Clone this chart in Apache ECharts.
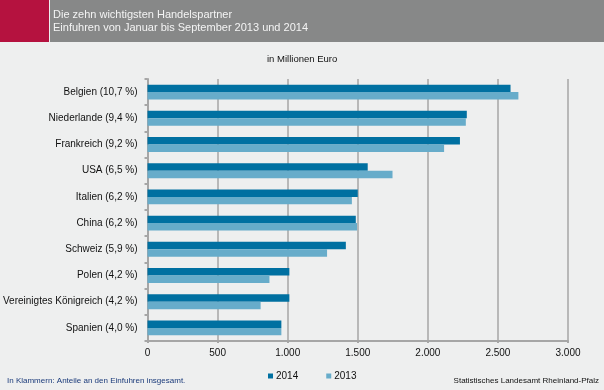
<!DOCTYPE html>
<html><head><meta charset="utf-8">
<script src="https://cdn.jsdelivr.net/npm/echarts@6/dist/echarts.min.js"></script>
<style>html,body{margin:0;padding:0;background:#EEEFEF}#c{width:604px;height:390px}</style>
</head><body><div id="c"></div>
<script>
const categories = ["Belgien (10,7 %)","Niederlande (9,4 %)","Frankreich (9,2 %)","USA (6,5 %)","Italien (6,2 %)","China (6,2 %)","Schweiz (5,9 %)","Polen (4,2 %)","Vereinigtes Königreich (4,2 %)","Spanien (4,0 %)"];
const values2014 = [2590, 2278, 2229, 1571, 1500, 1486, 1415, 1012, 1012, 955];
const values2013 = [2646, 2271, 2116, 1748, 1458, 1495, 1281, 870, 807, 955];
const seriesNames = ["2014", "2013"];
const titleLines = ["Die zehn wichtigsten Handelspartner", "Einfuhren von Januar bis September 2013 und 2014"];
const unitLabel = "in Millionen Euro";
const noteLeft = "In Klammern: Anteile an den Einfuhren insgesamt.";
const noteRight = "Statistisches Landesamt Rheinland-Pfalz";

const chart = echarts.init(document.getElementById('c'));
const font = "'Liberation Sans', Arial, sans-serif";
chart.setOption({
  backgroundColor: '#EEEFEF',
  animation: false,
  textStyle: {fontFamily: font},
  graphic: [
    {type:'rect', shape:{x:0,y:0,width:49,height:42}, style:{fill:'#B5123F'}},
    {type:'rect', shape:{x:50,y:0,width:554,height:42}, style:{fill:'#878888'}},
    {type:'text', left:53, top:9, style:{text:titleLines[0], fill:'#F4F4F4', font:'11px '+font}},
    {type:'text', left:53, top:22, style:{text:titleLines[1], fill:'#F4F4F4', font:'11px '+font}},
    {type:'text', left:267, top:54, style:{text:unitLabel, fill:'#111', font:'9.5px '+font}},
    {type:'text', left:7, top:377, style:{text:noteLeft, fill:'#1a3a7a', font:'8px '+font}},
    {type:'text', right:5, top:377, style:{text:noteRight, fill:'#111', font:'8px '+font}}
  ],
  legend: {
    data: seriesNames, left: 263, top: 366, itemWidth: 5, itemHeight: 5, itemGap: 28, icon: 'rect',
    textStyle: {fontSize: 10, color: '#111', fontFamily: font, padding:[0,0,0,-2]}
  },
  grid: {left: 144, right: 36, top: 79, bottom: 49, containLabel: false},
  xAxis: {
    type: 'value', min: 0, max: 3000, interval: 500,
    axisLine: {show: true, lineStyle: {color: '#A6A6A6', width: 2}},
    axisTick: {show: true, length: 2, lineStyle: {color: '#A6A6A6', width: 2}},
    splitLine: {show: true, lineStyle: {color: '#A6A6A6', width: 1.5}},
    axisLabel: {color: '#111', fontSize: 10, margin: 7, fontFamily: font,
      formatter: v => v >= 1000 ? Math.floor(v/1000) + '.' + String(v%1000).padStart(3,'0') : String(v)}
  },
  yAxis: {
    type: 'category', data: categories, inverse: true,
    axisLine: {show: true, lineStyle: {color: '#A6A6A6', width: 2}},
    axisTick: {show: true, length: 3, lineStyle: {color: '#A6A6A6', width: 2}},
    axisLabel: {color: '#111', fontSize: 10, margin: 10, fontFamily: font}
  },
  series: [
    {name: seriesNames[0], type: 'bar', data: values2014, itemStyle: {color: '#0070A1'}, barGap: '0%', barCategoryGap: '43%'},
    {name: seriesNames[1], type: 'bar', data: values2013, itemStyle: {color: '#67ACCA'}, barGap: '0%', barCategoryGap: '43%'}
  ]
});
</script></body></html>
